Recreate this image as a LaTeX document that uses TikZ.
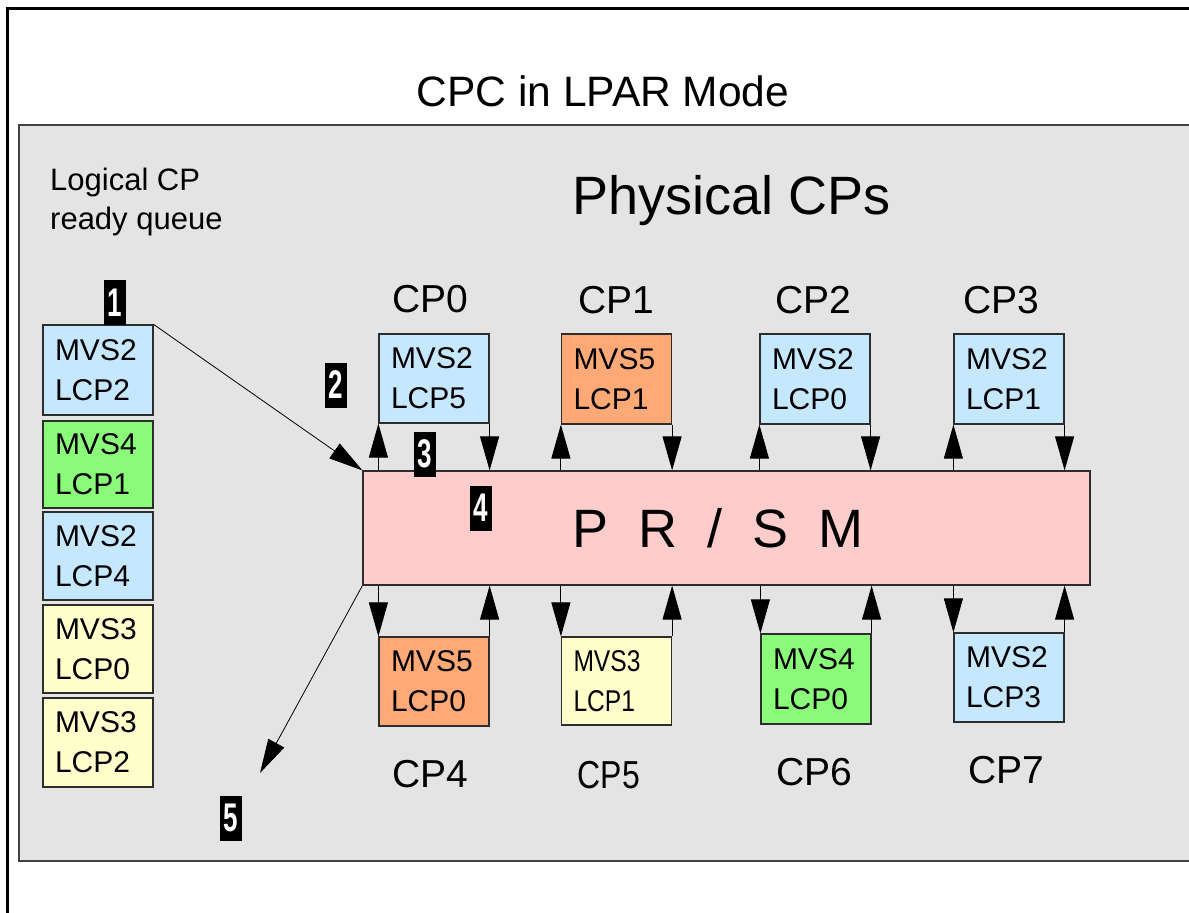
\documentclass[tikz,border=0pt]{standalone}
\usepackage{fontspec}
\setmainfont{Liberation Sans}
\usepackage{graphicx}
\usetikzlibrary{arrows.meta}
\definecolor{qblue}{RGB}{197,232,255}
\definecolor{qgreen}{RGB}{138,252,122}
\definecolor{qorange}{RGB}{255,170,118}
\definecolor{qyellow}{RGB}{255,255,204}
\definecolor{qpink}{RGB}{255,204,204}
\definecolor{qgray}{RGB}{228,228,228}
\definecolor{edgec}{RGB}{45,45,45}
\begin{document}
\begin{tikzpicture}[x=1pt,y=-1pt,
  lcp/.style={draw=edgec, line width=1.2pt, minimum width=110pt, inner xsep=12pt, inner ysep=0pt,
    text width=86pt, align=left, font=\fontsize{30}{40}\selectfont},
  arr/.style={-{Triangle[length=34pt,width=19pt]}, line width=1pt},
  thinarr/.style={-{Triangle[length=34pt,width=18pt]}, line width=0.8pt},
  badge/.style={fill=black, text=white, minimum width=22pt, minimum height=45pt, inner sep=0pt,
    font=\bfseries\fontsize{40}{40}\selectfont},
  cplabel/.style={anchor=base, inner sep=0pt, font=\fontsize{39}{39}\selectfont},
  plain/.style={inner sep=0pt}
]
\useasboundingbox (0,0) rectangle (1189,913);
\clip (0,0) rectangle (1189,913);
% outer frame
\draw[line width=3pt, black] (7,930) -- (7,8) -- (1200,8);
% title
\node[plain, anchor=base, font=\fontsize{42.5}{42.5}\selectfont] (title) at (603,106) {CPC in LPAR Mode};
% gray panel
\draw[draw=edgec!90, line width=1.6pt, fill=qgray] (19,125) rectangle (1200,861);
\node[plain, anchor=base west, align=left, font=\fontsize{31}{39}\selectfont] (lq1) at (50,190) {Logical CP};
\node[plain, anchor=base west, font=\fontsize{31}{39}\selectfont] (lq2) at (50,229) {ready queue};
\node[plain, anchor=base west, font=\fontsize{54}{54}\selectfont] (phys) at (572,214) {Physical CPs};
% PR/SM
\node[draw=edgec, line width=1.2pt, fill=qpink, minimum width=727pt, minimum height=114pt, inner sep=0pt] (prsm) at (726.5,528) {};
\node[plain, anchor=base, font=\fontsize{54}{54}\selectfont] (prsmtext) at (718,547) {P~~R~~/~~S~~M};
% ready queue
\node[lcp, fill=qblue, minimum height=90pt] (q1) at (98,370) {MVS2\\LCP2};
\node[lcp, fill=qgreen, minimum height=87pt] (q2) at (98,464.5) {MVS4\\LCP1};
\node[lcp, fill=qblue, minimum height=88pt] (q3) at (98,556) {MVS2\\LCP4};
\node[lcp, fill=qyellow, minimum height=88pt] (q4) at (98,649) {MVS3\\LCP0};
\node[lcp, fill=qyellow, minimum height=89pt] (q5) at (98,742.5) {MVS3\\LCP2};
% top CPs
\node[lcp, fill=qblue, minimum height=89pt] (cp0) at (434,378.5) {MVS2\\LCP5};
\node[lcp, fill=qorange, minimum height=90pt] (cp1) at (616.5,379) {MVS5\\LCP1};
\node[lcp, fill=qblue, minimum height=90pt] (cp2) at (815,379) {MVS2\\LCP0};
\node[lcp, fill=qblue, minimum height=90pt] (cp3) at (1009,379) {MVS2\\LCP1};
% bottom CPs
\node[lcp, fill=qorange, minimum height=89pt] (cp4) at (434,681.5) {MVS5\\LCP0};
\node[lcp, fill=qyellow, minimum height=88pt] (cp5) at (616.5,681) {\scalebox{0.82}[1]{MVS3}\\\scalebox{0.82}[1]{LCP1}};
\node[lcp, fill=qgreen, minimum height=90pt] (cp6) at (816,679) {MVS4\\LCP0};
\node[lcp, fill=qblue, minimum height=89pt] (cp7) at (1009,677.5) {MVS2\\LCP3};
% CP labels
\node[cplabel] (l0) at (430,312) {CP0};
\node[cplabel] (l1) at (616,313) {CP1};
\node[cplabel] (l2) at (813,313) {CP2};
\node[cplabel] (l3) at (1001,313) {CP3};
\node[cplabel] (l4) at (430,787) {CP4};
\node[cplabel] (l5) at (609,788) {\scalebox{0.82}[1]{CP5}};
\node[cplabel] (l6) at (814,785) {CP6};
\node[cplabel] (l7) at (1006,783) {CP7};
% arrows top
\foreach \c in {cp0,cp1,cp2,cp3}{
  \draw[arr] (prsm.north -| \c.south west) -- (\c.south west);
  \draw[arr] (\c.south east) -- (prsm.north -| \c.south east);
}
% arrows bottom
\foreach \c in {cp4,cp5,cp6,cp7}{
  \draw[arr] (prsm.south -| \c.north west) -- (\c.north west);
  \draw[arr] (\c.north east) -- (prsm.south -| \c.north east);
}
% queue arrows
\coordinate (c5) at (260,773);
\draw[thinarr] (q1.north east) -- (prsm.north west);
\draw[thinarr] (prsm.south west) -- (c5);
% badges
\node[badge] (b1) at (115,302.5) {\scalebox{0.65}[1]{1}};
\node[badge] (b2) at (336,385) {\scalebox{0.65}[1]{2}};
\node[badge] (b3) at (424.5,454) {\scalebox{0.65}[1]{3}};
\node[badge] (b4) at (480.5,508) {\scalebox{0.65}[1]{4}};
\node[badge] (b5) at (230.5,818) {\scalebox{0.65}[1]{5}};
\end{tikzpicture}
\end{document}
